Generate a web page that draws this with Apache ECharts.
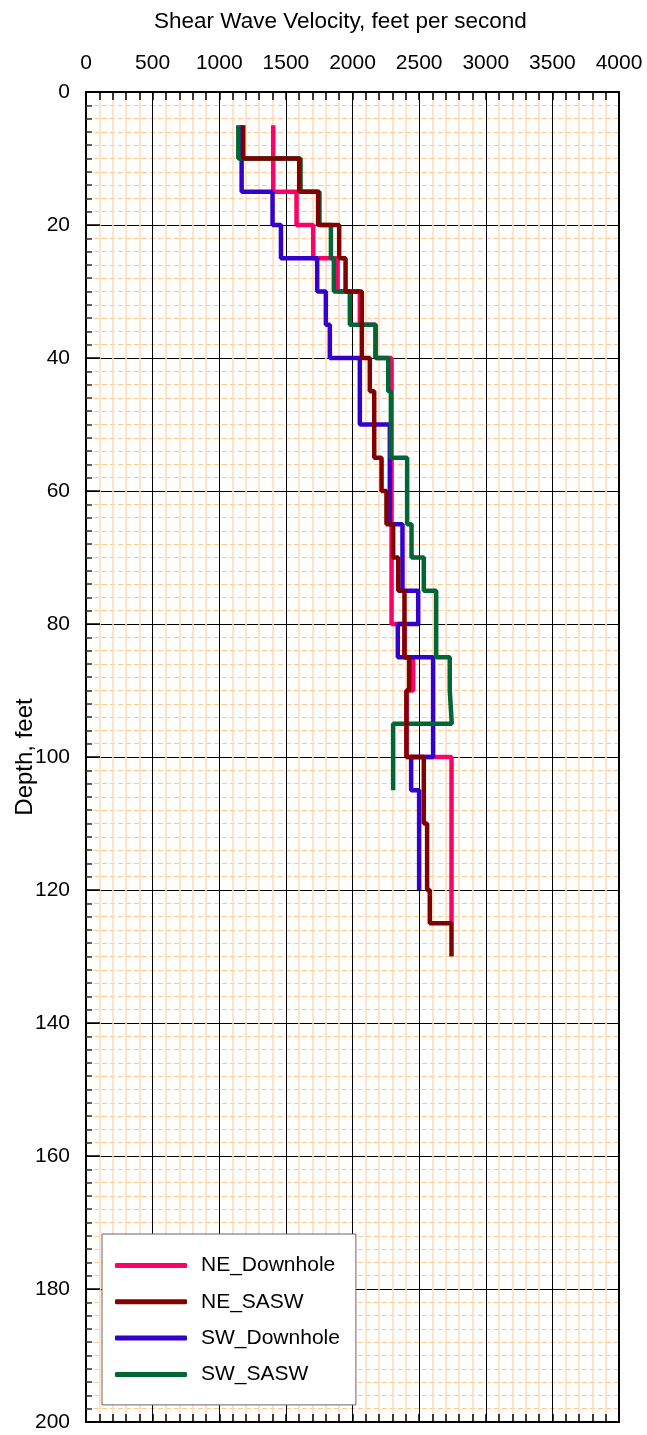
<!DOCTYPE html>
<html><head><meta charset="utf-8">
<script src="https://cdn.jsdelivr.net/npm/echarts@6/dist/echarts.min.js"></script>
<style>html,body{margin:0;padding:0;background:#fff}#c{width:647px;height:1435px}</style>
</head><body><div id="c"></div>
<script>
// Layer boundaries (feet) and shear wave velocities (ft/s) per layer
const neDownholeDepth = [5,15,20,25,30,35,40,80,85,90,100,125];
const neDownholeVel   = [1405,1580,1705,1888,2055,2175,2293,2390,2455,2405,2743];

const neSaswDepth = [5,10,15,20,25,30,40,45,55,60,65,70,75,85,90,100,110,120,125,130];
const neSaswVel   = [1180,1600,1742,1900,1948,2070,2130,2163,2218,2255,2305,2343,2390,2425,2405,2535,2560,2580,2743];

const swDownholeDepth = [5,15,20,25,30,35,40,50,65,75,80,85,100,105,120];
const swDownholeVel   = [1168,1400,1463,1735,1800,1830,2055,2280,2375,2493,2340,2605,2440,2500];

const swSaswDepth = [5,10,15,20,25,30,35,40,45,55,65,70,75,85,90,95,105];
const swSaswVel   = [1143,1610,1752,1838,1860,1980,2172,2268,2288,2410,2443,2535,2628,2730,2745,2305];

const seriesNames = ['NE_Downhole','NE_SASW','SW_Downhole','SW_SASW'];
const xTickValues = [0,500,1000,1500,2000,2500,3000,3500,4000];
const yTickValues = [0,20,40,60,80,100,120,140,160,180,200];

function steps(depths, vels){
  const pts = [];
  for (let i = 0; i < vels.length; i++){
    pts.push([vels[i], depths[i]]);
    pts.push([vels[i], depths[i+1]]);
  }
  return pts;
}

const FF = "'Liberation Sans', Arial, sans-serif";
const chart = echarts.init(document.getElementById('c'), null, {renderer:'canvas'});

function lineSeries(name, color, depths, vels){
  return {
    name, type:'line', data: steps(depths, vels), showSymbol:false, symbol:'none',
    lineStyle:{color, width:4.5}, itemStyle:{color}, animation:false,
    xAxisIndex:0, yAxisIndex:0
  };
}

chart.setOption({
  animation:false,
  backgroundColor:'#fff',
  title:{text:'Shear Wave Velocity, feet per second', left:149, top:5,
    textStyle:{fontSize:22.5, fontWeight:'normal', color:'#000', fontFamily:FF}},
  grid:{left:86, right:28, top:92, bottom:13, outerBoundsMode:'none', containLabel:false},
  legend:{
    data: seriesNames, orient:'vertical', left:102, top:1234,
    padding:[21,16,20,13], itemGap:15.3, itemWidth:72, itemHeight:5, icon:'roundRect',
    backgroundColor:'#fff', borderColor:'#666', borderWidth:1,
    textStyle:{fontSize:21, color:'#000', fontFamily:FF, padding:[0,0,0,9]}
  },
  xAxis:[
    {type:'value', position:'top', min:xTickValues[0], max:xTickValues[xTickValues.length-1], interval:500,
     axisLine:{show:true, onZero:false, lineStyle:{color:'#000', width:2}},
     axisTick:{show:true, inside:true, length:8, lineStyle:{color:'#000', width:1.5}},
     minorTick:{show:true, splitNumber:5, length:8, lineStyle:{color:'#000', width:1.5}},
     axisLabel:{fontSize:21, margin:18, color:'#000', fontFamily:FF, formatter:v=>String(v)},
     splitLine:{show:true, lineStyle:{color:'#000', width:1}},
     minorSplitLine:{show:true, lineStyle:{color:'#FFDDBB', width:1.6}}},
    {type:'value', position:'bottom', min:0, max:4000, interval:500,
     axisLine:{show:true, onZero:false, lineStyle:{color:'#000', width:2}},
     axisTick:{show:true, inside:true, length:8, lineStyle:{color:'#000', width:1.5}},
     minorTick:{show:true, splitNumber:5, length:8, lineStyle:{color:'#000', width:1.5}},
     axisLabel:{show:false}, splitLine:{show:false}}
  ],
  yAxis:[
    {type:'value', inverse:true, position:'left', min:yTickValues[0], max:yTickValues[yTickValues.length-1], interval:20,
     axisLine:{show:true, onZero:false, lineStyle:{color:'#000', width:2}},
     axisTick:{show:true, inside:true, length:14, lineStyle:{color:'#000', width:1.5}},
     minorTick:{show:true, splitNumber:10, length:6, lineStyle:{color:'#333', width:1.5}},
     axisLabel:{fontSize:21, margin:16, color:'#000', fontFamily:FF, formatter:v=>String(v)},
     splitLine:{show:true, lineStyle:{color:'#000', width:1}},
     minorSplitLine:{show:true, lineStyle:{color:'#FFC890', width:1, type:[5,3]}},
     name:'Depth, feet', nameLocation:'middle', nameGap:49, nameRotate:90, nameMoveOverlap:false,
     nameTextStyle:{fontSize:24, color:'#000', fontFamily:FF}},
    {type:'value', inverse:true, position:'right', min:0, max:200, interval:20,
     axisLine:{show:true, onZero:false, lineStyle:{color:'#000', width:2}},
     axisTick:{show:false}, axisLabel:{show:false}, splitLine:{show:false}}
  ],
  series:[
    lineSeries('NE_Downhole', '#FF0066', neDownholeDepth, neDownholeVel),
    lineSeries('SW_Downhole', '#3300CC', swDownholeDepth, swDownholeVel),
    lineSeries('SW_SASW', '#006633', swSaswDepth, swSaswVel),
    lineSeries('NE_SASW', '#800000', neSaswDepth, neSaswVel)
  ]
});
</script></body></html>
